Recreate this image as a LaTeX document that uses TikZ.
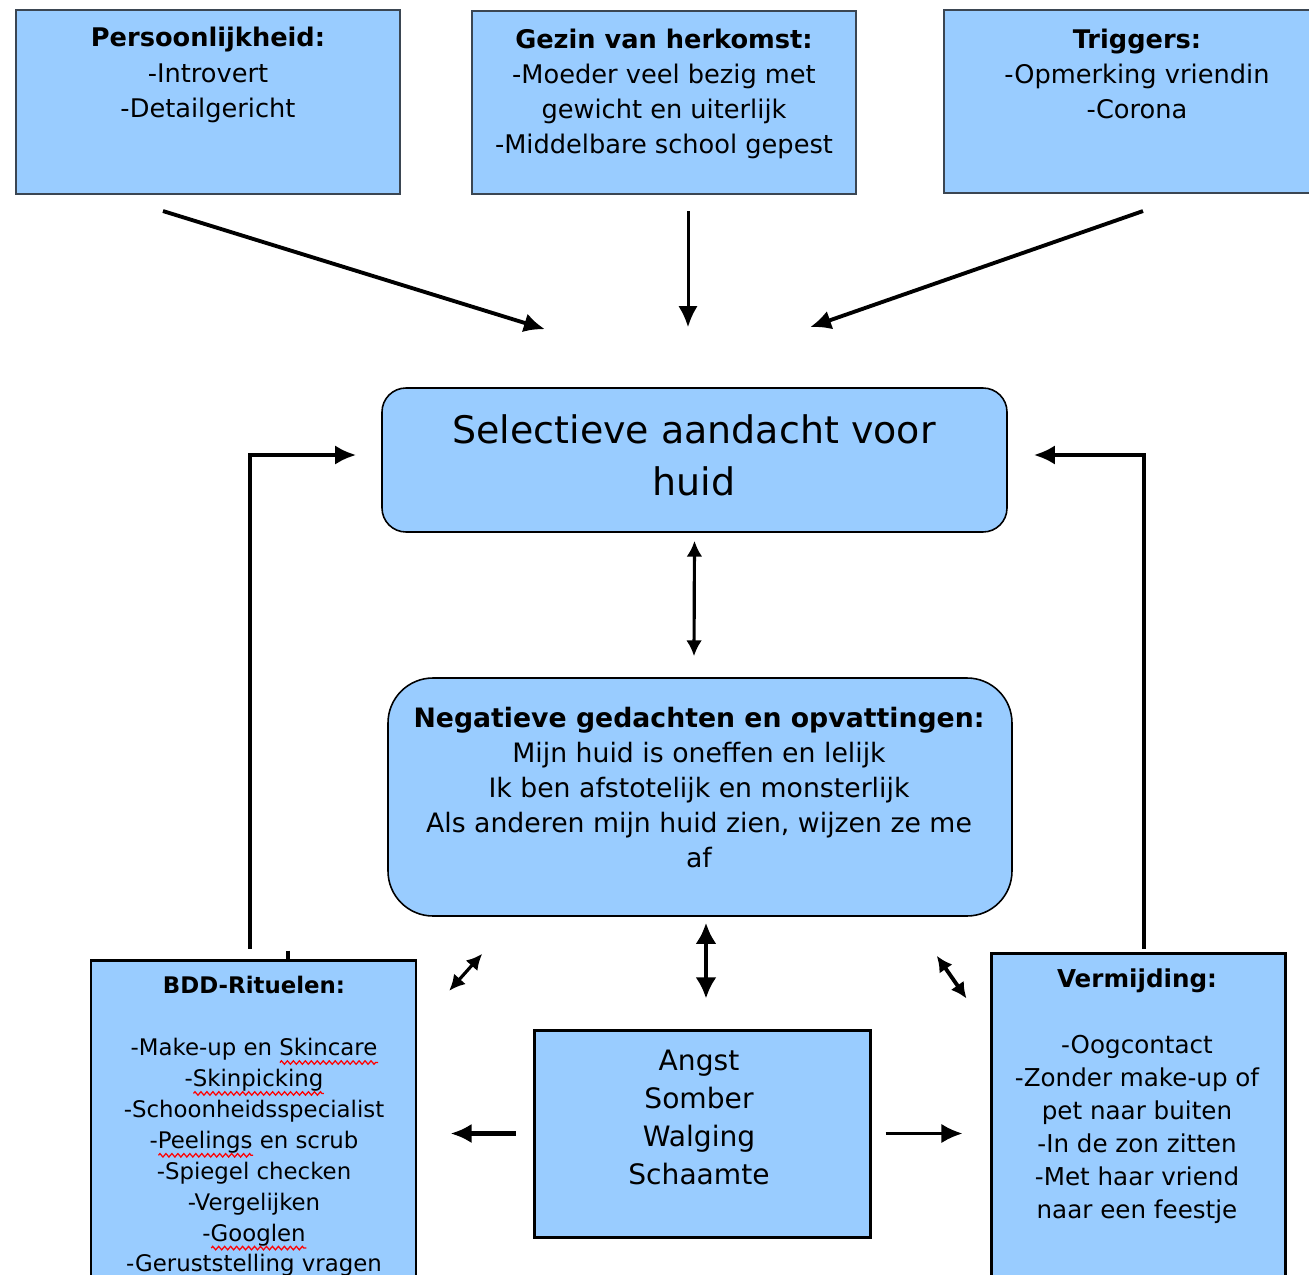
\documentclass[tikz,border=0pt]{standalone}
\usepackage{fontspec}
\setmainfont{DejaVu Sans}
\usetikzlibrary{positioning,calc,arrows.meta,decorations.pathmorphing}
\definecolor{lblue}{HTML}{99CCFF}
\definecolor{rand}{HTML}{3B4652}
\newlength\kronkelbreedte
\newcommand\kronkel[1]{\settowidth\kronkelbreedte{#1}\rlap{\tikz[baseline=0pt,x=1pt,y=1pt]\draw[red,line width=0.35pt,decorate,decoration={zigzag,amplitude=0.5pt,segment length=1.7pt}] (0pt,-2pt) -- (\kronkelbreedte,-2pt);}#1}

\begin{document}
\begin{tikzpicture}[x=0.1mm,y=-0.1mm,
  blok/.style={draw=black,fill=lblue,line width=0.85pt,inner sep=0pt},
  bovenblok/.style={blok,draw=rand,line width=0.6pt},
  rondblok/.style={blok,line width=0.45pt},
  tekst/.style={align=center,inner sep=0pt},
  pijl/.style={-{Latex[length=6pt,width=5.5pt]},line width=1.1pt},
  dubbel/.style={{Latex[length=4.5pt,width=4.5pt]}-{Latex[length=4.5pt,width=4.5pt]},line width=0.9pt}]
  \useasboundingbox (0,0) rectangle (1309,1275);

  \node[bovenblok,minimum width=38.4mm,minimum height=18.4mm] (pers) at (208,102) {};
  \node[bovenblok,minimum width=38.4mm,minimum height=18.3mm] (gezin) at (664,102.5) {};
  \node[bovenblok,minimum width=38.6mm,minimum height=18.3mm] (trig) at (1137,101.5) {};
  \node[tekst,font=\fontsize{7.3}{10}\selectfont] (perstxt) at (208,75)
    {\textbf{Persoonlijkheid:}\\-Introvert\\-Detailgericht};
  \node[tekst,font=\fontsize{7.3}{10}\selectfont] (gezintxt) at (664,94)
    {\textbf{Gezin van herkomst:}\\-Moeder veel bezig met\\gewicht en uiterlijk\\-Middelbare school gepest};
  \node[tekst,font=\fontsize{7.3}{10}\selectfont] (trigtxt) at (1137,74)
    {\textbf{Triggers:}\\-Opmerking vriendin\\-Corona};

  \node[rondblok,rounded corners=2.4mm,minimum width=62.5mm,minimum height=14.4mm] (aandacht) at (694.5,460) {};
  \node[tekst,font=\fontsize{10.8}{14.8}\selectfont] (aandachttxt) at (694,455)
    {Selectieve aandacht voor\\huid};

  \node[rondblok,rounded corners=4.5mm,minimum width=62.4mm,minimum height=23.8mm] (gedacht) at (700,797) {};
  \node[tekst,font=\fontsize{7.6}{10}\selectfont] (gedachttxt) at (699,787.5)
    {\textbf{Negatieve gedachten en opvattingen:}\\Mijn huid is oneffen en lelijk\\Ik ben afstotelijk en monsterlijk\\Als anderen mijn huid zien, wijzen ze me\\af};

  \node[blok,minimum width=33.6mm,minimum height=20.7mm] (angst) at (702,1133.5) {};
  \node[tekst,font=\fontsize{8}{10.8}\selectfont] (angsttxt) at (699,1117.5)
    {Angst\\Somber\\Walging\\Schaamte};

  \node[blok,minimum width=32.5mm,minimum height=34mm] (ritueel) at (253.5,1130) {};
  \node[tekst,font=\fontsize{6.5}{8.8}\selectfont] (ritueeltxt) at (254,1126.5)
    {\textbf{BDD-Rituelen:}\\[8.8pt]-Make-up en \kronkel{Skincare}\\-\kronkel{Skinpicking}\\-Schoonheidsspecialist\\-\kronkel{Peelings} en scrub\\-Spiegel checken\\-Vergelijken\\-\kronkel{Googlen}\\-Geruststelling vragen};

  \node[blok,minimum width=29.4mm,minimum height=34.7mm] (vermijd) at (1138,1126.5) {};
  \node[tekst,font=\fontsize{7}{9.4}\selectfont] (vermijdtxt) at (1137,1096)
    {\textbf{Vermijding:}\\[9.4pt]-Oogcontact\\-Zonder make-up of\\pet naar buiten\\-In de zon zitten\\-Met haar vriend\\naar een feestje};

  \draw[pijl] ($(pers.south)+(-45,16)$) -- ($(aandacht.north)+(-149.5,-58)$);
  \draw[pijl,line width=0.85pt] ($(gezin.south)+(24,16)$) -- ($(aandacht.north)+(-6.5,-60)$);
  \draw[pijl] ($(trig.south)+(6,17)$) -- ($(aandacht.north)+(115.5,-60)$);

  \draw[dubbel] ($(aandacht.south)+(0,8)$) -- ($(gedacht.north)+(-6,-21)$);
  \draw[dubbel,{Latex[length=6pt,width=6pt]}-{Latex[length=6pt,width=6pt]},line width=1.4pt]
    ($(gedacht.south)+(6,6)$) -- ($(angst.north)+(4,-30)$);
  \draw[dubbel] ($(gedacht.south west)+(95,37)$) -- ($(gedacht.south west)+(62,74)$);
  \draw[dubbel,line width=1.1pt] ($(gedacht.south east)+(-76,39)$) -- ($(vermijd.north west)+(-23,47)$);

  \draw[pijl,line width=1.4pt] ($(angst.west)+(-17,0)$) -- ($(angst.west -| ritueel.east)+(33,0)$);
  \draw[pijl,line width=0.85pt] ($(angst.east)+(14,0)$) -- ($(angst.east -| vermijd.west)+(-27,0)$);

  \draw[pijl] ($(ritueel.north)+(-3.5,-10)$) |- ($(aandacht.west)+(-25,-5)$);
  \draw[pijl] ($(vermijd.north)+(6,-3)$) |- ($(aandacht.east)+(26,-5)$);
  \draw[line width=1.1pt] ($(ritueel.north)+(34.5,-8)$) -- ++(0,8);
\end{tikzpicture}
\end{document}
